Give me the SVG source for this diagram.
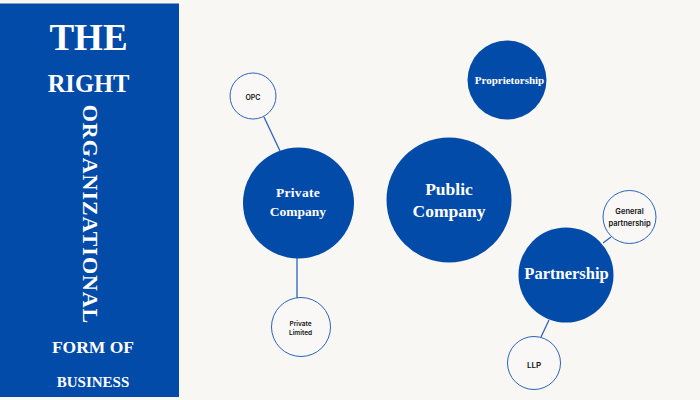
<svg xmlns="http://www.w3.org/2000/svg" width="700" height="400" viewBox="0 0 700 400">
<style>
text{font-family:"Liberation Serif","DejaVu Serif",serif;fill:#fff;text-anchor:middle;font-weight:700}
.small text{font-family:"Inter","Liberation Sans",sans-serif;fill:#111;font-weight:600}
.big{fill:#034ba9}
.small circle{fill:#fff;fill-opacity:.2;stroke:#2a64bd;stroke-width:1}
#connectors line{stroke:#2a64bd;stroke-width:1.3}
</style>
<rect width="700" height="400" fill="#f8f7f4"/>
<g id="panel">
<rect x="0" y="3" width="179" height="1" fill="#7f9fcb"/>
<rect x="0" y="4" width="179" height="393" fill="#034ba9"/>
<text x="88.500" y="50" font-size="37">THE</text>
<text x="88.500" y="92" font-size="24.500">RIGHT</text>
<text transform="translate(83,214.500) rotate(90)" font-size="22" letter-spacing=".95">ORGANIZATIONAL</text>
<text x="93" y="353" font-size="17.500">FORM OF</text>
<text x="93" y="387" font-size="15">BUSINESS</text>
</g>
<g id="connectors">
<line x1="264" y1="117" x2="280" y2="151"/>
<line x1="297" y1="258" x2="297" y2="298"/>
<line x1="603" y1="243" x2="611" y2="237"/>
<line x1="549" y1="320" x2="541" y2="337"/>
</g>
<g id="private-company"><circle class="big" cx="298.500" cy="203" r="55.500"/>
<text x="298" y="197" font-size="13.500" letter-spacing=".3">Private</text><text x="298" y="216" font-size="13.500">Company</text></g>
<g id="public-company"><circle class="big" cx="449" cy="200" r="62.500"/>
<text x="449" y="195" font-size="17.500">Public</text><text x="449" y="217" font-size="17.500">Company</text></g>
<g id="proprietorship"><circle class="big" cx="507" cy="80" r="39.500"/>
<text x="509.500" y="84" font-size="11">Proprietorship</text></g>
<g id="partnership"><circle class="big" cx="566" cy="275" r="47.500"/>
<text x="566.500" y="279" font-size="16.500">Partnership</text></g>
<g id="opc" class="small"><circle cx="253" cy="96" r="23"/><text x="253" y="100" font-size="7">OPC</text></g>
<g id="private-limited" class="small"><circle cx="301" cy="327" r="29.500"/>
<text x="300.500" y="326" font-size="6.500">Private</text><text x="300.500" y="335" font-size="6.500">Limited</text></g>
<g id="general-partnership" class="small"><circle cx="629.500" cy="217" r="26.500"/>
<text x="629.500" y="214" font-size="7.500">General</text><text x="629.500" y="226" font-size="7.500">partnership</text></g>
<g id="llp" class="small"><circle cx="534" cy="363" r="26.500"/><text x="534" y="368" font-size="8">LLP</text></g>
</svg>
